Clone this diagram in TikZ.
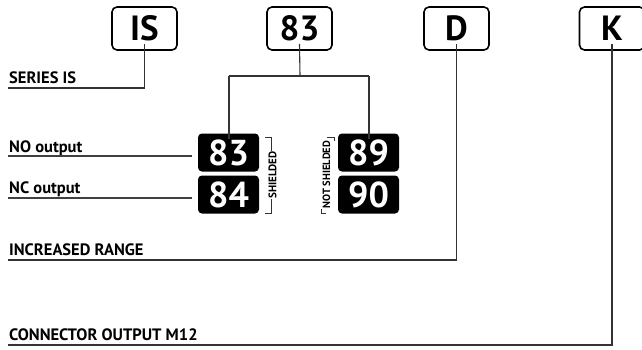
\documentclass[tikz,border=0pt]{standalone}
\usepackage{fontspec}
\setmainfont{PT Sans}
\begin{document}
\begin{tikzpicture}[x=1pt,y=-1pt,
  codebox/.style={draw=black,line width=1.6pt,rounded corners=5pt,minimum width=65pt,minimum height=43pt,inner sep=0pt,font=\fontsize{35}{35}\selectfont\bfseries},
  blkbox/.style={fill=black,text=white,rounded corners=4pt,minimum width=61pt,minimum height=38pt,inner sep=0pt,font=\fontsize{36}{36}\selectfont\bfseries},
  lbl/.style={anchor=base west,inner sep=0pt,font=\fontsize{16.5}{16.5}\selectfont\bfseries},
  rot/.style={rotate=90,inner sep=0pt,font=\fontsize{11}{11}\selectfont\bfseries},
  conn/.style={draw=black!80,line width=1.1pt},
  brk/.style={draw=black!80,line width=0.9pt},
  uline/.style={draw=black!75,line width=1.5pt}]
\useasboundingbox (0,0) rectangle (642,349);
% top code boxes
\node[codebox] (bIS) at (144.5,28.5) {IS};
\node[codebox] (b83) at (299.5,28.5) {83};
\node[codebox] (bD) at (456.5,28.5) {D};
\node[codebox] (bK) at (612,28.5) {K};
% black option boxes
\node[blkbox] (k83) at (228.5,152.5) {83};
\node[blkbox] (k84) at (228.5,194.5) {84};
\node[blkbox] (k89) at (368.5,152.5) {89};
\node[blkbox] (k90) at (368.5,194.5) {90};
% labels
\node[lbl] (lSeries) at (9,83) {SERIES IS};
\node[lbl] (lNO) at (9,152) {NO output};
\node[lbl] (lNC) at (9,193.5) {NC output};
\node[lbl] (lRange) at (9,255) {INCREASED RANGE};
\node[lbl] (lConn) at (9,340) {CONNECTOR OUTPUT M12};
\node[rot] (tSh) at (272.5,175) {SHIELDED};
\node[rot,font=\fontsize{10.5}{10.5}\selectfont\bfseries] (tNSh) at (326.5,174.5) {NOT SHIELDED};
% connector coordinates
\coordinate (sIS) at ([yshift=7pt]bIS.south);
\coordinate (cIS) at (8,88);
\coordinate (s83) at ([yshift=7pt]b83.south);
\coordinate (j83) at (300,76);
\coordinate (jL) at (229,76);
\coordinate (jR) at (369,76);
\coordinate (sD) at ([yshift=7pt]bD.south);
\coordinate (cD) at (8,260);
\coordinate (sK) at ([yshift=7pt]bK.south);
\coordinate (cK) at (8,345);
\coordinate (eNO) at (8,156);
\coordinate (eNC) at (8,198);
% connectors
\draw[conn] (sIS) -- (sIS |- cIS) -- (cIS);
\draw[conn] (s83) -- (j83);
\draw[conn] (jL) -- (jR);
\draw[conn] (jL) -- ([yshift=-6pt]k83.north -| jL);
\draw[conn] (jR) -- ([yshift=-6pt]k89.north -| jR);
\draw[conn] (sD) -- (sD |- cD) -- (cD);
\draw[conn] (sK) -- (sK |- cK) -- (cK);
\draw[uline] (eNO) -- ([xshift=-6pt]eNO -| k83.west);
\draw[uline] (eNC) -- ([xshift=-6pt]eNC -| k84.west);
% brackets
\draw[brk] (265,137) -- (271,137) -- (tSh.east -| 271,0);
\draw[brk] (tSh.west -| 271,0) -- (271,213) -- (265,213);
\draw[brk] (327,137) -- (334,137) -- (334,141);
\draw[brk] (321,209) -- (321,213) -- (326,213);
\end{tikzpicture}
\end{document}
